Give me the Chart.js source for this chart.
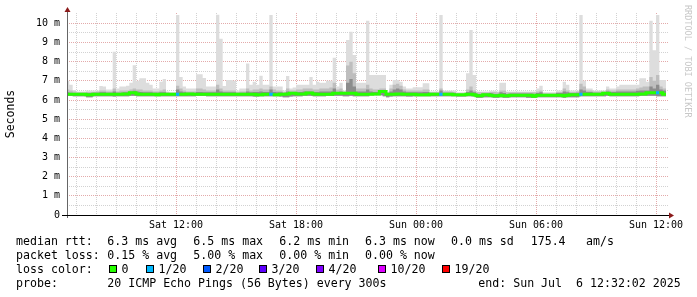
<!DOCTYPE html>
<html>
<head>
<meta charset="utf-8">
<script src="https://cdn.jsdelivr.net/npm/chart.js@4.4.0/dist/chart.umd.min.js"></script>
<style>
html,body{margin:0;padding:0;background:#ffffff;}
#wrap{width:697px;height:297px;position:relative;}
</style>
</head>
<body>
<div id="wrap"><canvas id="c" width="697" height="297"></canvas></div>
<script>
// ---- time base: hours since Sat 00:00, one slot = 10 minutes ----
const startHour = 6.5;
const slotHours = 1 / 6;

// upper edge of the smoke (slowest ping), seconds in ms units
const smokeMax = [
 7.0,6.8,6.52,6.45,6.45,6.45,6.5,6.5,6.5,6.5, 6.73,6.7,6.55,6.55,8.52,6.6,6.7,6.7,6.75,6.9,
 7.82,7.0,7.13,7.13,6.9,6.8,6.6,6.6,6.95,7.1, 6.45,6.4,6.4,10.43,7.2,6.7,6.6,6.6,6.6,7.35,
 7.35,7.15,6.7,6.7,6.7,10.45,9.2,6.73,7.04,7.04, 7.0,6.5,6.6,6.6,7.9,6.8,6.95,6.8,7.27,6.8,
 6.8,10.43,6.7,6.7,6.7,6.5,7.25,6.6,6.65,6.8, 6.8,6.8,6.8,7.2,6.8,6.95,6.9,6.9,7.0,7.0,
 8.2,6.7,6.9,6.5,9.13,9.56,8.35,6.9,6.9,6.9, 10.13,7.3,7.3,7.3,7.3,7.3,6.45,6.8,7.05,7.05,
 6.95,6.7,6.6,6.6,6.67,6.67,6.67,6.87,6.87,6.45, 6.45,6.45,10.43,6.5,6.5,6.5,6.5,6.4,6.4,6.4,
 7.4,9.65,7.3,6.45,6.45,6.45,6.45,6.48,6.48,6.45, 6.9,6.9,6.45,6.45,6.45,6.45,6.45,6.45,6.45,6.45,
 6.45,6.6,6.75,6.4,6.4,6.4,6.4,6.5,6.5,6.95, 6.8,6.5,6.5,6.5,10.43,7.0,6.6,6.6,6.5,6.5,
 6.5,6.5,6.7,6.6,6.6,6.7,6.8,6.8,6.8,6.8, 6.8,6.8,7.13,7.13,6.95,10.13,8.6,10.43,7.05,7.05
];
// top of the denser (medium grey) smoke
const smokeMid = [
 6.55,6.5,6.45,6.4,6.4,6.4,6.42,6.42,6.42,6.45, 6.5,6.5,6.45,6.45,6.6,6.45,6.5,6.5,6.5,6.55,
 6.6,6.55,6.55,6.5,6.5,6.5,6.45,6.45,6.5,6.55, 6.4,6.38,6.38,6.75,6.6,6.5,6.45,6.45,6.45,6.6,
 6.6,6.55,6.5,6.5,6.5,6.8,6.6,6.5,6.5,6.5, 6.5,6.42,6.45,6.45,6.6,6.5,6.55,6.55,6.6,6.55,
 6.55,6.7,6.55,6.5,6.5,6.42,6.6,6.5,6.5,6.55, 6.55,6.6,6.6,6.6,6.55,6.55,6.6,6.6,6.6,6.65,
 6.9,6.55,6.6,6.45,7.8,8.0,7.4,6.6,6.6,6.6, 6.8,6.6,6.55,6.55,6.6,6.6,6.4,6.6,6.8,6.85,
 6.75,6.55,6.5,6.5,6.5,6.5,6.5,6.55,6.55,6.42, 6.42,6.42,6.6,6.45,6.45,6.45,6.42,6.35,6.35,6.35,
 6.55,6.7,6.5,6.4,6.4,6.4,6.4,6.42,6.42,6.4, 6.5,6.5,6.4,6.4,6.4,6.4,6.4,6.4,6.4,6.4,
 6.4,6.45,6.5,6.35,6.35,6.35,6.35,6.42,6.42,6.6, 6.5,6.42,6.42,6.45,6.85,6.7,6.5,6.5,6.45,6.45,
 6.45,6.45,6.55,6.5,6.5,6.55,6.55,6.55,6.55,6.55, 6.55,6.6,6.65,6.7,6.7,7.2,7.0,7.3,6.7,6.6
];
// top of the darkest smoke, close to the median
const smokeDark = [
 6.4,6.38,6.36,6.36,6.36,6.36,6.36,6.36,6.38,6.38, 6.4,6.4,6.38,6.38,6.45,6.38,6.38,6.4,6.4,6.45,
 6.48,6.45,6.42,6.4,6.4,6.4,6.38,6.38,6.4,6.4, 6.36,6.34,6.34,6.55,6.45,6.4,6.38,6.38,6.38,6.42,
 6.42,6.4,6.4,6.4,6.4,6.55,6.45,6.4,6.4,6.4, 6.4,6.36,6.38,6.38,6.45,6.4,6.42,6.42,6.45,6.42,
 6.42,6.55,6.42,6.4,6.4,6.36,6.45,6.42,6.42,6.42, 6.42,6.45,6.45,6.45,6.42,6.42,6.45,6.45,6.45,6.45,
 6.6,6.42,6.45,6.4,6.9,7.1,6.7,6.45,6.45,6.45, 6.55,6.45,6.42,6.42,6.5,6.5,6.34,6.45,6.55,6.6,
 6.55,6.45,6.4,6.4,6.4,6.4,6.4,6.42,6.42,6.36, 6.36,6.36,6.5,6.38,6.38,6.38,6.36,6.32,6.32,6.32,
 6.42,6.5,6.4,6.32,6.32,6.34,6.34,6.36,6.32,6.32, 6.4,6.36,6.32,6.34,6.34,6.34,6.34,6.34,6.34,6.34,
 6.3,6.36,6.4,6.32,6.32,6.32,6.32,6.36,6.36,6.45, 6.4,6.36,6.36,6.38,6.55,6.5,6.42,6.42,6.38,6.38,
 6.38,6.42,6.45,6.42,6.42,6.45,6.45,6.45,6.45,6.45, 6.45,6.48,6.5,6.5,6.5,6.7,6.6,6.8,6.55,6.5
];
// lower edge of the smoke (fastest ping)
const smokeLow = [
 6.22,6.22,6.2,6.2,6.2,6.2,6.15,6.15,6.2,6.2, 6.2,6.2,6.2,6.2,6.18,6.2,6.2,6.2,6.2,6.22,
 6.22,6.2,6.2,6.2,6.2,6.2,6.2,6.2,6.2,6.2, 6.2,6.2,6.2,6.2,6.2,6.2,6.2,6.2,6.2,6.22,
 6.22,6.22,6.2,6.2,6.2,6.2,6.2,6.2,6.2,6.2, 6.2,6.2,6.2,6.2,6.2,6.2,6.18,6.18,6.2,6.2,
 6.2,6.2,6.2,6.2,6.18,6.15,6.15,6.18,6.2,6.2, 6.2,6.22,6.22,6.22,6.2,6.2,6.2,6.2,6.22,6.22,
 6.22,6.22,6.22,6.2,6.2,6.22,6.2,6.2,6.2,6.2, 6.2,6.25,6.25,6.25,6.25,6.2,6.15,6.18,6.2,6.2,
 6.2,6.2,6.18,6.18,6.2,6.2,6.2,6.2,6.2,6.2, 6.2,6.2,6.2,6.2,6.2,6.2,6.2,6.18,6.18,6.18,
 6.2,6.2,6.18,6.12,6.12,6.15,6.15,6.15,6.12,6.12, 6.15,6.12,6.12,6.15,6.15,6.15,6.15,6.15,6.12,6.12,
 6.12,6.15,6.15,6.15,6.15,6.15,6.15,6.15,6.15,6.12, 6.15,6.15,6.15,6.15,6.2,6.2,6.2,6.2,6.2,6.2,
 6.2,6.2,6.22,6.2,6.2,6.2,6.2,6.2,6.2,6.2, 6.2,6.2,6.22,6.22,6.22,6.22,6.22,6.2,6.2,6.2
];
// median rtt
const medianRtt = [
 6.3,6.3,6.3,6.3,6.3,6.3,6.28,6.28,6.3,6.3, 6.3,6.3,6.3,6.3,6.3,6.3,6.3,6.32,6.32,6.38,
 6.38,6.32,6.3,6.3,6.3,6.3,6.3,6.28,6.3,6.3, 6.3,6.3,6.3,6.3,6.3,6.3,6.32,6.32,6.3,6.3,
 6.3,6.3,6.3,6.3,6.3,6.3,6.3,6.3,6.3,6.3, 6.3,6.3,6.3,6.3,6.3,6.3,6.3,6.28,6.28,6.3,
 6.3,6.3,6.28,6.28,6.3,6.3,6.32,6.35,6.35,6.32, 6.32,6.32,6.37,6.37,6.32,6.3,6.3,6.3,6.3,6.3,
 6.35,6.35,6.35,6.35,6.35,6.35,6.35,6.3,6.3,6.3, 6.3,6.3,6.32,6.32,6.45,6.45,6.3,6.3,6.3,6.32,
 6.32,6.3,6.3,6.3,6.3,6.28,6.28,6.28,6.28,6.3, 6.3,6.3,6.3,6.3,6.3,6.3,6.28,6.28,6.28,6.28,
 6.3,6.3,6.28,6.22,6.22,6.28,6.28,6.25,6.22,6.22, 6.25,6.22,6.22,6.25,6.25,6.25,6.25,6.25,6.25,6.25,
 6.2,6.25,6.25,6.25,6.25,6.25,6.25,6.25,6.25,6.22, 6.25,6.28,6.28,6.28,6.3,6.3,6.3,6.3,6.3,6.3,
 6.3,6.35,6.35,6.3,6.3,6.3,6.3,6.3,6.3,6.3, 6.3,6.3,6.32,6.32,6.38,6.38,6.38,6.38,6.38,6.3
];
// slots with 1/20 packet loss
const lossSlots = [33, 61, 112, 154, 177];

// axis ticks
const xTickHours = [12, 18, 24, 30, 36];
const xTickLabels = ['Sat 12:00', 'Sat 18:00', 'Sun 00:00', 'Sun 06:00', 'Sun 12:00'];
const yTickValues = [0,1,2,3,4,5,6,7,8,9,10];
const yTickLabels = ['0','1 m','2 m','3 m','4 m','5 m','6 m','7 m','8 m','9 m','10 m'];

// loss colour legend
const lossNames = ['0', '1/20', '2/20', '3/20', '4/20', '10/20', '19/20'];
const lossColors = ['#26ff00', '#00b8ff', '#0059ff', '#5e00ff', '#7e00ff', '#dd00ff', '#ff0000'];

// legend texts
const statRows = [
  ['median rtt:', '6.3 ms avg', '6.5 ms max', '6.2 ms min', '6.3 ms now', '0.0 ms sd', '175.4', 'am/s'],
  ['packet loss:', '0.15 % avg', '5.00 % max', '0.00 % min', '0.00 % now']
];
const probeText = ['probe:', '20 ICMP Echo Pings (56 Bytes) every 300s', 'end: Sun Jul  6 12:32:02 2025'];

// ---- build point lists (stepped, one extra closing point) ----
function toPoints(arr) {
  const pts = arr.map((v, i) => ({ x: startHour + i * slotHours, y: v }));
  pts.push({ x: startHour + arr.length * slotHours, y: arr[arr.length - 1] });
  return pts;
}
const lossSet = new Set(lossSlots);

const MONO = '"DejaVu Sans Mono", monospace';

const decorPlugin = {
  id: 'decor',
  afterDraw(chart) {
    const ctx = chart.ctx;
    const ca = chart.chartArea;
    ctx.save();
    // y axis line
    ctx.strokeStyle = '#666666';
    ctx.lineWidth = 1;
    ctx.beginPath();
    ctx.moveTo(Math.round(ca.left) + 0.5, ca.top - 3);
    ctx.lineTo(Math.round(ca.left) + 0.5, ca.bottom + 3);
    ctx.stroke();
    // x axis line
    ctx.strokeStyle = '#000000';
    ctx.beginPath();
    ctx.moveTo(ca.left - 5, Math.round(ca.bottom) + 0.5);
    ctx.lineTo(ca.right + 1, Math.round(ca.bottom) + 0.5);
    ctx.stroke();
    // arrows
    ctx.fillStyle = '#8b1a1a';
    const ax = Math.round(ca.left) + 0.5;
    ctx.beginPath();
    ctx.moveTo(ax - 3, ca.top - 1);
    ctx.lineTo(ax + 3, ca.top - 1);
    ctx.lineTo(ax, ca.top - 6);
    ctx.closePath();
    ctx.fill();
    const ay = Math.round(ca.bottom) + 0.5;
    ctx.beginPath();
    ctx.moveTo(ca.right, ay - 3);
    ctx.lineTo(ca.right, ay + 3);
    ctx.lineTo(ca.right + 5, ay);
    ctx.closePath();
    ctx.fill();

    // watermark
    ctx.save();
    ctx.translate(687, 5);
    ctx.rotate(Math.PI / 2);
    ctx.fillStyle = '#c8c8c8';
    ctx.font = '8.5px ' + MONO;
    ctx.textBaseline = 'middle';
    ctx.textAlign = 'left';
    ctx.fillText('RRDTOOL / TOBI OETIKER', 0, 0);
    ctx.restore();

    // legend
    ctx.fillStyle = '#000000';
    ctx.font = '11.6px ' + MONO;
    ctx.textBaseline = 'alphabetic';
    ctx.textAlign = 'left';
    const rowX = [16, 107.3, 193.3, 279.3, 365, 451, 530.7, 586];
    statRows.forEach((row, r) => {
      row.forEach((t, k) => ctx.fillText(t, rowX[k], 245 + r * 14));
    });
    ctx.fillText('loss color:', 16, 273);
    const sqX = [108.5, 146, 202.7, 259.3, 316, 377.7, 441.7];
    lossNames.forEach((n, k) => {
      const x = Math.round(sqX[k]);
      ctx.fillStyle = lossColors[k];
      ctx.fillRect(x, 265, 7, 7);
      ctx.strokeStyle = '#000000';
      ctx.lineWidth = 1;
      ctx.strokeRect(x + 0.5, 265.5, 7, 7);
      ctx.fillStyle = '#000000';
      ctx.fillText(n, x + 12.5, 273);
    });
    ctx.fillText(probeText[0], 16, 287);
    ctx.fillText(probeText[1], 107.3, 287);
    ctx.fillText(probeText[2], 478.3, 287);
    ctx.restore();
  }
};

const majorGrid = '#e3aaaa';
const minorGrid = '#d2d2d2';

new Chart(document.getElementById('c'), {
  type: 'line',
  data: {
    datasets: [
      {
        label: 'median',
        data: toPoints(medianRtt),
        stepped: 'before',
        borderWidth: 3,
        borderColor: lossColors[0],
        pointRadius: 0,
        fill: false,
        segment: {
          borderColor: c => lossSet.has(c.p0DataIndex) ? lossColors[1] : lossColors[0]
        }
      },
      {
        label: 'dark',
        data: toPoints(smokeDark),
        stepped: 'before',
        borderColor: 'rgba(0,0,0,0)',
        borderWidth: 0,
        pointRadius: 0,
        backgroundColor: 'rgb(140,140,140)',
        fill: { target: 4 }
      },
      {
        label: 'mid',
        data: toPoints(smokeMid),
        stepped: 'before',
        borderColor: 'rgba(0,0,0,0)',
        borderWidth: 0,
        pointRadius: 0,
        backgroundColor: 'rgb(190,190,190)',
        fill: { target: 4 }
      },
      {
        label: 'max',
        data: toPoints(smokeMax),
        stepped: 'before',
        borderColor: 'rgba(0,0,0,0)',
        borderWidth: 0,
        pointRadius: 0,
        backgroundColor: 'rgb(221,221,221)',
        fill: { target: 4 }
      },
      {
        label: 'low',
        data: toPoints(smokeLow),
        stepped: 'before',
        borderColor: 'rgba(0,0,0,0)',
        borderWidth: 0,
        pointRadius: 0,
        fill: false
      }
    ]
  },
  options: {
    responsive: false,
    animation: false,
    devicePixelRatio: 1,
    layout: { padding: { left: 0, right: 28, top: 13, bottom: 0 }, autoPadding: false },
    plugins: { legend: { display: false }, tooltip: { enabled: false } },
    scales: {
      x: {
        type: 'linear',
        min: 6.55,
        max: 36.65,
        afterBuildTicks: s => {
          const t = [];
          for (let h = 7; h <= 36; h++) t.push({ value: h });
          s.ticks = t;
        },
        afterFit: s => { s.height = 82; },
        ticks: {
          autoSkip: false,
          maxRotation: 0,
          minRotation: 0,
          padding: 4,
          color: '#000000',
          font: { family: MONO, size: 10 },
          callback: v => {
            const k = xTickHours.indexOf(v);
            return k >= 0 ? xTickLabels[k] : '';
          }
        },
        grid: {
          drawTicks: false,
          lineWidth: 1,
          color: c => (c.tick && xTickHours.includes(c.tick.value)) ? majorGrid : minorGrid
        },
        border: { display: false, dash: [1, 1] }
      },
      y: {
        type: 'linear',
        min: 0,
        max: 10.54,
        afterBuildTicks: s => {
          const t = [];
          for (let v = 0; v <= 10; v += 0.5) t.push({ value: v });
          s.ticks = t;
        },
        afterFit: s => { s.width = 67; },
        ticks: {
          autoSkip: false,
          padding: 7,
          color: '#000000',
          font: { family: MONO, size: 10 },
          callback: v => {
            const k = yTickValues.indexOf(v);
            return k >= 0 ? yTickLabels[k] : '';
          }
        },
        title: {
          display: true,
          text: 'Seconds',
          color: '#000000',
          font: { family: MONO, size: 11.5 },
          padding: { top: 4, bottom: 0 }
        },
        grid: {
          drawTicks: false,
          lineWidth: 1,
          color: c => (c.tick && Number.isInteger(c.tick.value)) ? majorGrid : minorGrid
        },
        border: { display: false, dash: [1, 1] }
      }
    }
  },
  plugins: [decorPlugin]
});
</script>
</body>
</html>
